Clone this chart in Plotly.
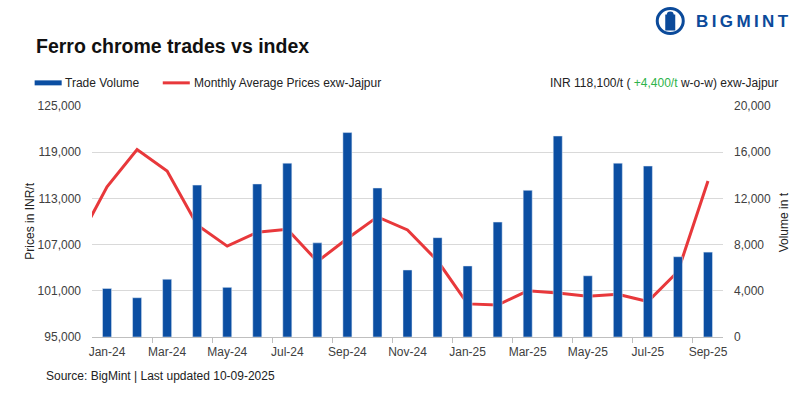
import plotly.graph_objects as go

# ---- data ----
months = ["Jan-24", "Feb-24", "Mar-24", "Apr-24", "May-24", "Jun-24", "Jul-24", "Aug-24",
          "Sep-24", "Oct-24", "Nov-24", "Dec-24", "Jan-25", "Feb-25", "Mar-25", "Apr-25",
          "May-25", "Jun-25", "Jul-25", "Aug-25", "Sep-25"]
trade_volume = [4200, 3400, 5000, 13150, 4300, 13250, 15050, 8150, 17700, 12900,
                5800, 8600, 6150, 9950, 12700, 17400, 5300, 15050, 14800, 6950, 7350]
# price series begins one month earlier (Dec-23), only partly visible at the left edge
price_months = ["Dec-23"] + months
monthly_avg_price = [107200, 114500, 119350, 116550, 109550, 106800, 108600, 109000,
                     104800, 107800, 110600, 108900, 104900, 99300, 99150, 101000,
                     100700, 100300, 100550, 99600, 103500, 115250]
tick_labels = months[::2]

BLUE = "#0B4EA2"
RED = "#E8383B"
GREEN = "#2DB34A"
REG = "Liberation Sans, Arial, sans-serif"

W, H = 800, 399
L, R, T, B = 92.3, 722.7, 105.7, 337.3


def fx(px):
    return (px - L) / (R - L)


def fy(py):
    return (B - py) / (B - T)


x_vol = [months.index(m) for m in months]
x_price = [i - 1 for i in range(len(price_months))]

fig = go.Figure()
fig.add_trace(go.Bar(x=x_vol, y=trade_volume, name="Trade Volume", marker_color=BLUE,
                     width=0.3, yaxis="y2", showlegend=False))
fig.add_trace(go.Scatter(x=x_price, y=monthly_avg_price, name="Monthly Average Prices exw-Jajpur",
                         mode="lines", line=dict(color=RED, width=3), showlegend=False))

fig.update_layout(
    width=W, height=H,
    margin=dict(l=L, r=W - R, t=T, b=H - B, pad=0, autoexpand=False),
    plot_bgcolor="white", paper_bgcolor="white",
    xaxis=dict(range=[-0.5, 20.5], tickmode="array", automargin=False,
               tickvals=list(range(0, 21, 2)), ticktext=tick_labels,
               ticks="", showgrid=False, showline=True, linecolor="#bfbfbf", linewidth=1,
               tickfont=dict(family=REG, size=12, color="#404040"), ticklabelstandoff=4,
               minor=dict(tickmode="array", tickvals=[i + 0.5 for i in range(1, 20, 2)],
                          ticks="outside", ticklen=5, tickcolor="#bfbfbf", showgrid=False),
               zeroline=False),
    yaxis=dict(range=[95000, 125000], dtick=6000, tick0=95000, tickformat=",d", automargin=False,
               showgrid=True, gridcolor="#d9d9d9", gridwidth=1, zeroline=False,
               ticks="", ticklabelstandoff=10,
               tickfont=dict(family=REG, size=12, color="#404040")),
    yaxis2=dict(range=[0, 20000], dtick=4000, tickformat=",d", overlaying="y", side="right",
                showgrid=False, zeroline=False, ticks="", ticklabelstandoff=10, automargin=False,
                tickfont=dict(family=REG, size=12, color="#404040")),
)

ann = []
ann.append(dict(text="<b>Ferro chrome trades vs index</b>", x=fx(34), y=fy(46),
                xanchor="left", yanchor="middle",
                font=dict(family=REG, size=19.5, color="#111111")))
ann.append(dict(text="Trade Volume", x=fx(63), y=fy(82.5), xanchor="left", yanchor="middle",
                font=dict(family=REG, size=12, color="#222222")))
ann.append(dict(text="Monthly Average Prices exw-Jajpur", x=fx(192), y=fy(82.5),
                xanchor="left", yanchor="middle",
                font=dict(family=REG, size=12, color="#222222")))
ann.append(dict(text="INR 118,100/t ( <span style='color:%s'>+4,400/t</span> w-o-w) exw-Jajpur" % GREEN,
                x=fx(780), y=fy(82.5), xanchor="right", yanchor="middle",
                font=dict(family=REG, size=12, color="#222222")))
ann.append(dict(text="Prices in INR/t", x=fx(30), y=fy(221), textangle=-90,
                xanchor="center", yanchor="middle",
                font=dict(family=REG, size=12, color="#222222")))
ann.append(dict(text="Volume in t", x=fx(784), y=fy(222), textangle=-90,
                xanchor="center", yanchor="middle",
                font=dict(family=REG, size=12, color="#222222")))
ann.append(dict(text="Source: BigMint | Last updated 10-09-2025", x=fx(44), y=fy(376),
                xanchor="left", yanchor="middle",
                font=dict(family=REG, size=12, color="#222222")))
ann.append(dict(text="<b>B\u2009I\u2009G\u2009M\u2009I\u2009N\u2009T</b>", x=fx(791), y=fy(21),
                xanchor="right", yanchor="middle",
                font=dict(family=REG, size=17, color="#0B4A9A")))
for a in ann:
    a.update(xref="paper", yref="paper", showarrow=False)
fig.update_layout(annotations=ann)

shapes = []
shapes.append(dict(type="rect", x0=fx(35), x1=fx(62), y0=fy(80), y1=fy(85),
                   fillcolor=BLUE, line=dict(width=0)))
shapes.append(dict(type="line", x0=fx(163), x1=fx(190), y0=fy(82.5), y1=fy(82.5),
                   line=dict(color=RED, width=3)))
# logo icon
shapes.append(dict(type="circle", x0=fx(657), x1=fx(683), y0=fy(33), y1=fy(8),
                   line=dict(color="#0B4A9A", width=3), fillcolor="white"))
shapes.append(dict(type="rect", x0=fx(665), x1=fx(675), y0=fy(30), y1=fy(14),
                   line=dict(width=0), fillcolor="#0B4A9A"))
shapes.append(dict(type="circle", x0=fx(666.5), x1=fx(673.5), y0=fy(18), y1=fy(11),
                   line=dict(width=0), fillcolor="#0B4A9A"))
for s in shapes:
    s.update(xref="paper", yref="paper")
fig.update_layout(shapes=shapes)

fig.write_html("out.html", config={"displayModeBar": False},
               post_script="document.body.style.margin='0';document.body.style.overflow='hidden';")
